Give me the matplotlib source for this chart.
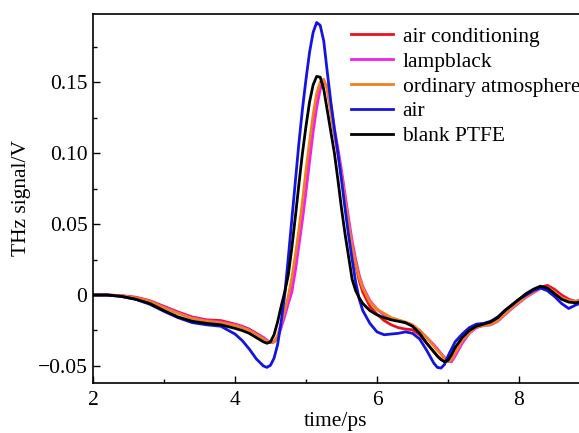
import matplotlib
matplotlib.use("Agg")
import matplotlib.pyplot as plt
from matplotlib.ticker import MultipleLocator

plt.rcParams['font.family'] = ['Liberation Serif', 'DejaVu Serif']

time_ps = [2.0, 2.2, 2.4, 2.6, 2.8, 3.0, 3.2, 3.4, 3.6, 3.8, 4.0, 4.1, 4.2, 4.3, 4.4,
           4.45, 4.5, 4.55, 4.6, 4.65, 4.7, 4.75, 4.8, 4.85, 4.9, 4.95, 5.0, 5.05,
           5.1, 5.15, 5.2, 5.25, 5.3, 5.35, 5.4, 5.45, 5.5, 5.55, 5.6, 5.65, 5.7,
           5.75, 5.8, 5.9, 6.0, 6.1, 6.2, 6.3, 6.4, 6.5, 6.6, 6.7, 6.8, 6.85, 6.9,
           6.95, 7.0, 7.05, 7.1, 7.2, 7.3, 7.4, 7.5, 7.6, 7.7, 7.8, 7.9, 8.0, 8.1,
           8.2, 8.3, 8.4, 8.5, 8.6, 8.7, 8.8, 8.85]

air_conditioning = [0.0, 0.0, -0.0005, -0.0015, -0.004, -0.008, -0.012, -0.0155, -0.0175,
                    -0.018, -0.0205, -0.022, -0.024, -0.027, -0.030,
                    -0.032, -0.0335, -0.033, -0.0295, -0.0215, -0.0125, -0.0025, 0.009,
                    0.024, 0.042, 0.061, 0.082, 0.102,
                    0.121, 0.137, 0.147, 0.1505, 0.146, 0.130, 0.114, 0.100, 0.085, 0.068,
                    0.050, 0.034, 0.021,
                    0.010, 0.002, -0.008, -0.0135, -0.018, -0.021, -0.023, -0.024, -0.0245,
                    -0.028, -0.034, -0.040, -0.043, -0.045,
                    -0.0465, -0.047, -0.044, -0.039, -0.031, -0.026, -0.022, -0.021, -0.020,
                    -0.017, -0.0125, -0.008, -0.004, 0.000,
                    0.003, 0.0055, 0.0068, 0.004, 0.000, -0.003, -0.0045, -0.004]

lampblack = [0.0, 0.0, -0.0005, -0.002, -0.0045, -0.0085, -0.0125, -0.016, -0.018,
             -0.019, -0.021, -0.0225, -0.0245, -0.0275, -0.030,
             -0.032, -0.0335, -0.033, -0.030, -0.023, -0.015, -0.006, 0.002,
             0.017, 0.035, 0.053, 0.073, 0.094,
             0.115, 0.132, 0.145, 0.150, 0.147, 0.134, 0.117, 0.103, 0.088, 0.071,
             0.054, 0.038, 0.025,
             0.014, 0.006, -0.004, -0.010, -0.014, -0.0165, -0.018, -0.0195, -0.0215,
             -0.025, -0.030, -0.035, -0.038, -0.041,
             -0.044, -0.0465, -0.047, -0.043, -0.034, -0.027, -0.023, -0.0215, -0.021,
             -0.0185, -0.014, -0.0095, -0.0055, -0.0015,
             0.0015, 0.0045, 0.005, 0.002, -0.002, -0.004, -0.0045, -0.004]

ordinary_atmosphere = [0.0, 0.0, -0.0005, -0.002, -0.0045, -0.009, -0.013, -0.0165, -0.0185,
                       -0.0195, -0.0215, -0.023, -0.025, -0.028, -0.031,
                       -0.0325, -0.0335, -0.033, -0.029, -0.020, -0.011, -0.001, 0.012,
                       0.028, 0.046, 0.066, 0.088, 0.108,
                       0.127, 0.142, 0.150, 0.152, 0.145, 0.129, 0.114, 0.100, 0.084, 0.067,
                       0.050, 0.034, 0.022,
                       0.012, 0.005, -0.005, -0.010, -0.013, -0.016, -0.0175, -0.019, -0.021,
                       -0.025, -0.030, -0.036, -0.039, -0.0415,
                       -0.045, -0.047, -0.0455, -0.041, -0.032, -0.0265, -0.0225, -0.0215, -0.021,
                       -0.018, -0.0135, -0.009, -0.005, -0.001,
                       0.002, 0.005, 0.0055, 0.002, -0.002, -0.004, -0.0045, -0.004]

air = [0.0, 0.0, -0.001, -0.003, -0.0065, -0.0115, -0.016, -0.0195, -0.021,
       -0.022, -0.0275, -0.032, -0.038, -0.045, -0.050,
       -0.051, -0.0495, -0.0445, -0.035, -0.019, 0.000, 0.026, 0.053,
       0.080, 0.107, 0.131, 0.152, 0.171,
       0.185, 0.192, 0.190, 0.179, 0.157, 0.136, 0.117, 0.100, 0.081, 0.061,
       0.042, 0.025, 0.009,
       -0.003, -0.011, -0.020, -0.026, -0.028, -0.0275, -0.027, -0.026, -0.027,
       -0.031, -0.039, -0.048, -0.051, -0.0515,
       -0.049, -0.043, -0.038, -0.033, -0.0275, -0.023, -0.0205, -0.020, -0.0185,
       -0.0155, -0.011, -0.007, -0.003, 0.000,
       0.003, 0.005, 0.003, -0.001, -0.006, -0.0095, -0.007, -0.006]

blank_ptfe = [0.0, 0.0, -0.001, -0.003, -0.006, -0.011, -0.0155, -0.0185, -0.020,
              -0.021, -0.0235, -0.025, -0.027, -0.030, -0.033,
              -0.034, -0.033, -0.028, -0.019, -0.008, 0.002, 0.014, 0.033,
              0.055, 0.078, 0.100, 0.119, 0.136,
              0.148, 0.154, 0.1535, 0.145, 0.130, 0.115, 0.100, 0.081, 0.061, 0.043,
              0.027, 0.011, 0.003,
              -0.002, -0.006, -0.011, -0.014, -0.016, -0.0175, -0.0185, -0.0195, -0.022,
              -0.027, -0.034, -0.040, -0.043, -0.0455,
              -0.047, -0.046, -0.042, -0.037, -0.030, -0.025, -0.022, -0.0205, -0.019,
              -0.016, -0.011, -0.007, -0.003, 0.001,
              0.004, 0.0062, 0.005, 0.001, -0.003, -0.005, -0.0055, -0.005]

labels = ["air conditioning", "lampblack", "ordinary atmosphere", "air", "blank PTFE"]
series = [air_conditioning, lampblack, ordinary_atmosphere, air, blank_ptfe]
colors = ["#e8141c", "#f020f0", "#f0801e", "#1414e0", "#000000"]

x_ticks = [2, 4, 6, 8]
y_ticks = [-0.05, 0, 0.05, 0.10, 0.15]
y_tick_labels = ["\u22120.05", "0", "0.05", "0.10", "0.15"]

FS = 15.5

fig = plt.figure(figsize=(5.79, 4.33), dpi=100)
ax = fig.add_axes([93/579, 1 - 383/433, 1 - 93/579, (383 - 14)/433])

for y, c, lab in zip(series, colors, labels):
    ax.plot(time_ps, y, color=c, lw=2.0, label=lab)

ax.set_xlim(2, 2 + (579 - 93) / 71)
ax.set_ylim(-0.062, 0.198)
ax.set_xticks(x_ticks)
ax.set_xticklabels([str(v) for v in x_ticks])
ax.set_yticks(y_ticks)
ax.set_yticklabels(y_tick_labels)
ax.xaxis.set_minor_locator(MultipleLocator(1))
ax.yaxis.set_minor_locator(MultipleLocator(0.025))
ax.tick_params(which='both', direction='in', labelsize=FS, width=1.0)
ax.tick_params(which='major', length=5)
ax.tick_params(which='minor', length=3)
ax.tick_params(axis='x', pad=6)
ax.tick_params(axis='y', pad=4)
ax.tick_params(top=False, right=False, which='both')
for s in ['left', 'bottom', 'top']:
    ax.spines[s].set_linewidth(1.2)
ax.spines['right'].set_visible(False)

ax.set_xlabel("time/ps", fontsize=FS, labelpad=1)
ax.set_ylabel("THz signal/V", fontsize=FS, labelpad=5)

ax.legend(loc='upper left', bbox_to_anchor=(0.504, 1.0), frameon=False, fontsize=FS,
          handlelength=1.95, handletextpad=0.45, labelspacing=0.22, borderaxespad=0.3,
          borderpad=0.3)

fig.savefig("out.png", dpi=100)
